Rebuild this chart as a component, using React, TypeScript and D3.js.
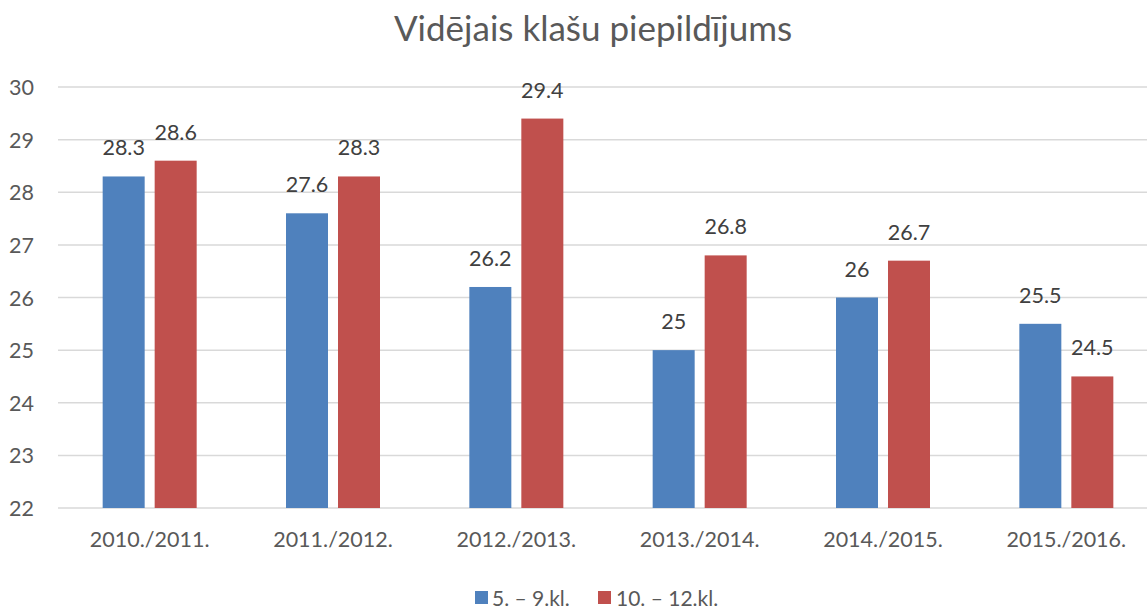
import React from "react";
import * as d3 from "d3";

const categories = ["2010./2011.", "2011./2012.", "2012./2013.", "2013./2014.", "2014./2015.", "2015./2016."];
const seriesNames = ["5. – 9.kl.", "10. – 12.kl."];
const series1 = [28.3, 27.6, 26.2, 25, 26, 25.5];
const series2 = [28.6, 28.3, 29.4, 26.8, 26.7, 24.5];
const yTicks = [22, 23, 24, 25, 26, 27, 28, 29, 30];
const colors = ["#4F81BD", "#C0504D"];

export default function App() {
  const W = 1147, H = 609;
  const font = "Lato, 'Open Sans', sans-serif";
  const x = d3.scaleBand().domain(categories).range([58, 1158]).paddingInner(0).paddingOuter(0);
  const y = d3.scaleLinear().domain([22, 30]).range([508, 87]);
  const inner = d3.scaleBand().domain(["0", "1"]).range([0, 94]).paddingInner(10 / 52);
  const data = [series1, series2];
  return (
    <svg width={W} height={H} style={{ position: "absolute", left: 0, top: 0 }} fontFamily={font}>
      <rect width={W} height={H} fill="#fff" />
      <text x={593} y={41} textAnchor="middle" fontSize={35} fill="#595959">Vidējais klašu piepildījums</text>
      {yTicks.map(t => (
        <g key={t}>
          <line x1={58} x2={W} y1={y(t)} y2={y(t)} stroke="#D9D9D9" strokeWidth={1.5} />
          <text x={34} y={y(t) + 8} textAnchor="end" fontSize={21.5} fill="#595959">{t}</text>
        </g>
      ))}
      {categories.map((c, i) => {
        const cx = (x(c) as number) + x.bandwidth() / 2;
        return (
          <g key={c}>
            {data.map((s, k) => {
              const bx = cx - 47 + (inner(String(k)) as number);
              const bw = inner.bandwidth();
              return (
                <g key={k}>
                  <rect x={bx} y={y(s[i])} width={bw} height={y(22) - y(s[i])} fill={colors[k]} />
                  <text x={bx + bw / 2} y={y(s[i]) - 21} textAnchor="middle" fontSize={21.5} fill="#404040">{s[i]}</text>
                </g>
              );
            })}
            <text x={cx} y={547} textAnchor="middle" fontSize={21.5} fill="#595959">{c}</text>
          </g>
        );
      })}
      <rect x={475} y={591} width={13} height={13} fill={colors[0]} />
      <text x={492} y={606} fontSize={21} fill="#595959">{seriesNames[0]}</text>
      <rect x={598} y={591} width={13} height={13} fill={colors[1]} />
      <text x={616} y={606} fontSize={21} fill="#595959">{seriesNames[1]}</text>
    </svg>
  );
}
